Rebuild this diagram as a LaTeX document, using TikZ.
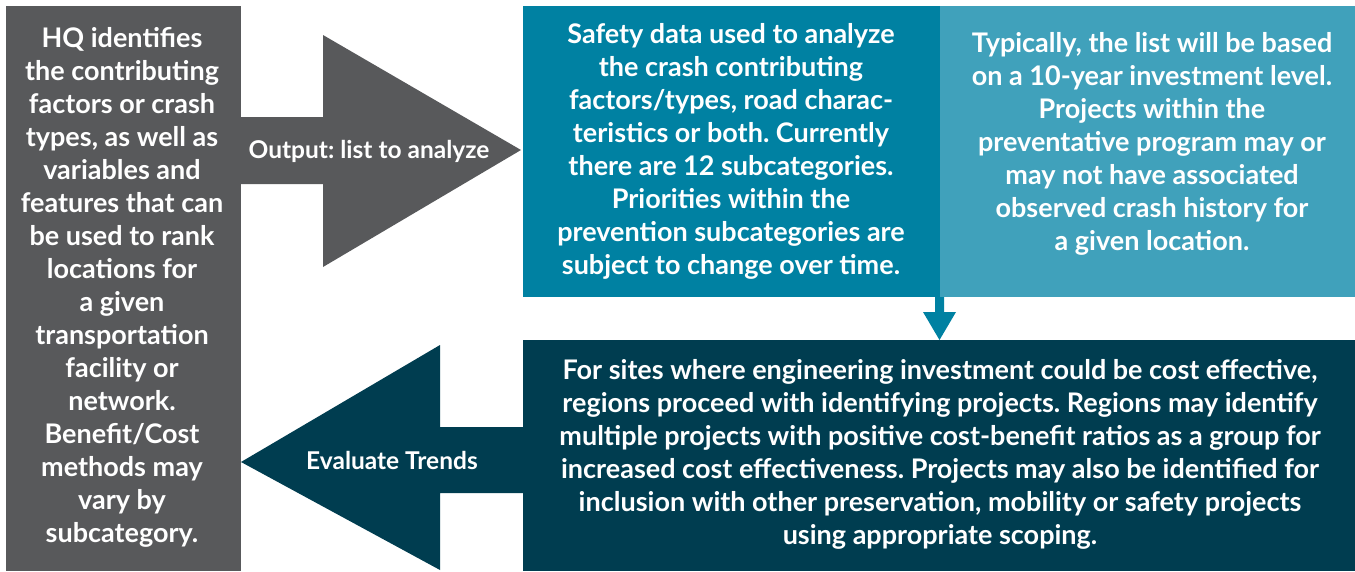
\documentclass[tikz,border=0pt]{standalone}
\usepackage{fontspec}
\setmainfont{Lato}
\frenchspacing
\definecolor{cgray}{HTML}{58595B}
\definecolor{cteal}{HTML}{0081A2}
\definecolor{clight}{HTML}{40A1BB}
\definecolor{cnavy}{HTML}{003D50}
\begin{document}
\begin{tikzpicture}[x=1pt,y=-1pt,
  txt/.style={text=white,align=center,font=\bfseries\fontsize{27}{33}\selectfont,inner sep=0pt},
  lbl/.style={text=white,align=center,font=\bfseries\fontsize{24.5}{28}\selectfont,inner sep=0pt}]
\useasboundingbox (0,0) rectangle (1355,571);
% boxes
\fill[cgray] (6,6) rectangle (241,571);
\fill[cteal] (523,6) rectangle (940,297);
\fill[clight] (940,6) rectangle (1355,297);
\fill[cnavy] (523,340) rectangle (1355,571);
% big right arrow
\fill[cgray] (241,117) -- (323,117) -- (323,35) -- (521,150) -- (323,267) -- (323,184) -- (241,184) -- cycle;
% big left arrow
\fill[cnavy] (523,427) -- (440,427) -- (440,345) -- (241,462) -- (440,570) -- (440,493) -- (523,493) -- cycle;
% small down arrow
\fill[cteal] (935,297) -- (944,297) -- (944,312) -- (956,312) -- (939.5,340) -- (923,312) -- (935,312) -- cycle;
% texts
\node[txt] (hq) at (122,287) {HQ identifies\\the contributing\\factors or crash\\types, as well as\\variables and\\features that can\\be used to rank\\locations for\\a given\\transportation\\facility or\\network.\\Benefit/Cost\\methods may\\vary by\\subcategory.};
\node[txt] (safety) at (731,151) {Safety data used to analyze\\the crash contributing\\factors/types, road charac-\\teristics or both. Currently\\there are 12 subcategories.\\Priorities within the\\prevention subcategories are\\subject to change over time.};
\node[txt] (typ) at (1152,144) {Typically, the list will be based\\on a 10-year investment level.\\Projects within the\\preventative program may or\\may not have associated\\observed crash history for\\a given location.};
\node[txt] (sites) at (940,454) {For sites where engineering investment could be cost effective,\\regions proceed with identifying projects. Regions may identify\\multiple projects with positive cost-benefit ratios as a group for\\increased cost effectiveness. Projects may also be identified for\\inclusion with other preservation, mobility or safety projects\\using appropriate scoping.};
\node[lbl] (out) at (369,151) {Output: list to analyze};
\node[lbl] (eval) at (392,460) {Evaluate Trends};
\end{tikzpicture}
\end{document}
